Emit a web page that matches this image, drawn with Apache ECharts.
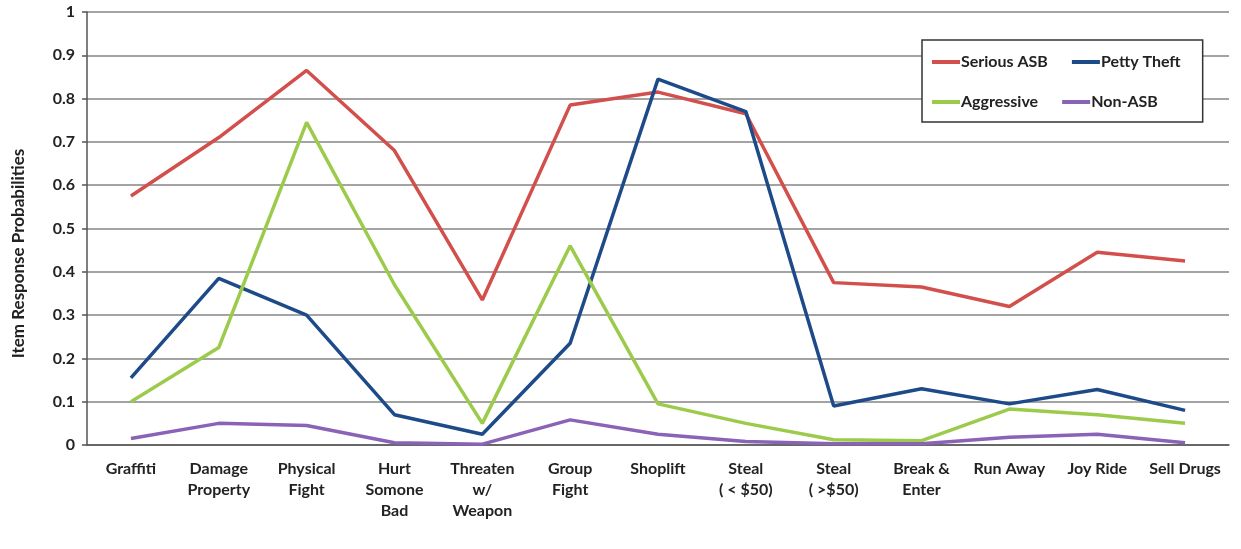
<!DOCTYPE html>
<html>
<head>
<meta charset="utf-8">
<script src="https://cdn.jsdelivr.net/npm/echarts@6/dist/echarts.min.js"></script>
<style>
  html, body { margin: 0; padding: 0; background: #fff; }
  #chart { width: 1241px; height: 549px; }
</style>
</head>
<body>
<div id="chart"></div>
<script>
// categories along the x axis
const categories = [
  'Graffiti', 'Damage\nProperty', 'Physical\nFight', 'Hurt\nSomone\nBad',
  'Threaten\nw/\nWeapon', 'Group\nFight', 'Shoplift', 'Steal\n( < $50)',
  'Steal\n( >$50)', 'Break &\nEnter', 'Run Away', 'Joy Ride', 'Sell Drugs'
]

// item response probabilities per class
const seriousASB = [0.575, 0.71, 0.865, 0.68, 0.335, 0.785, 0.815, 0.765, 0.375, 0.365, 0.32, 0.445, 0.425]
const pettyTheft = [0.155, 0.385, 0.30, 0.07, 0.025, 0.235, 0.845, 0.77, 0.09, 0.13, 0.095, 0.128, 0.08]
const aggressive = [0.10, 0.225, 0.745, 0.37, 0.05, 0.46, 0.095, 0.05, 0.012, 0.01, 0.083, 0.07, 0.05]
const nonASB = [0.015, 0.05, 0.045, 0.005, 0.002, 0.058, 0.025, 0.008, 0.003, 0.003, 0.018, 0.025, 0.005]

const chart = echarts.init(document.getElementById('chart'))

const font = 'Lato, "Open Sans", sans-serif'

const makeLine = (name, data, color) => ({
  name: name,
  type: 'line',
  data: data,
  symbol: 'none',
  smooth: false,
  lineStyle: { color: color, width: 3.5 },
  itemStyle: { color: color }
})

const option = {
  animation: false,
  textStyle: { fontFamily: font },
  grid: {
    left: 87,
    right: 12,
    top: 12,
    bottom: 104
  },
  legend: {
    left: 922,
    top: 40,
    width: 285,
    padding: [14, 22, 12, 10],
    borderColor: '#333',
    borderWidth: 1.5,
    backgroundColor: '#fff',
    itemWidth: 28,
    itemHeight: 4,
    itemGap: 24,
    icon: 'rect',
    textStyle: {
      fontFamily: font,
      fontSize: 16,
      fontWeight: 'bold',
      color: '#222',
      width: 88,
      padding: [0, 0, 0, -4]
    },
    data: ['Serious ASB', 'Petty Theft', 'Aggressive', 'Non-ASB']
  },
  xAxis: {
    type: 'category',
    data: categories,
    boundaryGap: true,
    axisLine: { lineStyle: { color: '#555', width: 1.5 } },
    axisTick: { length: 5, lineStyle: { color: '#555', width: 1.5 } },
    axisLabel: {
      interval: 0,
      margin: 13,
      fontFamily: font,
      fontSize: 16,
      fontWeight: 'bold',
      lineHeight: 21,
      color: '#222'
    }
  },
  yAxis: {
    type: 'value',
    min: 0,
    max: 1,
    interval: 0.1,
    name: 'Item Response Probabilities',
    nameLocation: 'middle',
    nameGap: 60,
    nameTextStyle: {
      fontFamily: font,
      fontSize: 17,
      fontWeight: 'bold',
      color: '#222',
      padding: [0, 50, 0, 0]
    },
    axisLine: { show: true, lineStyle: { color: '#555', width: 1.5 } },
    axisTick: { show: true, length: 5, lineStyle: { color: '#555', width: 1.5 } },
    axisLabel: {
      margin: 12,
      fontFamily: font,
      fontSize: 16,
      fontWeight: 'bold',
      color: '#222'
    },
    splitLine: { lineStyle: { color: '#858585', width: 1.5 } }
  },
  series: [
    makeLine('Serious ASB', seriousASB, '#d24f4c'),
    makeLine('Petty Theft', pettyTheft, '#1d4a88'),
    makeLine('Aggressive', aggressive, '#9ccb4c'),
    makeLine('Non-ASB', nonASB, '#8a62b6')
  ]
}

chart.setOption(option)
</script>
</body>
</html>
